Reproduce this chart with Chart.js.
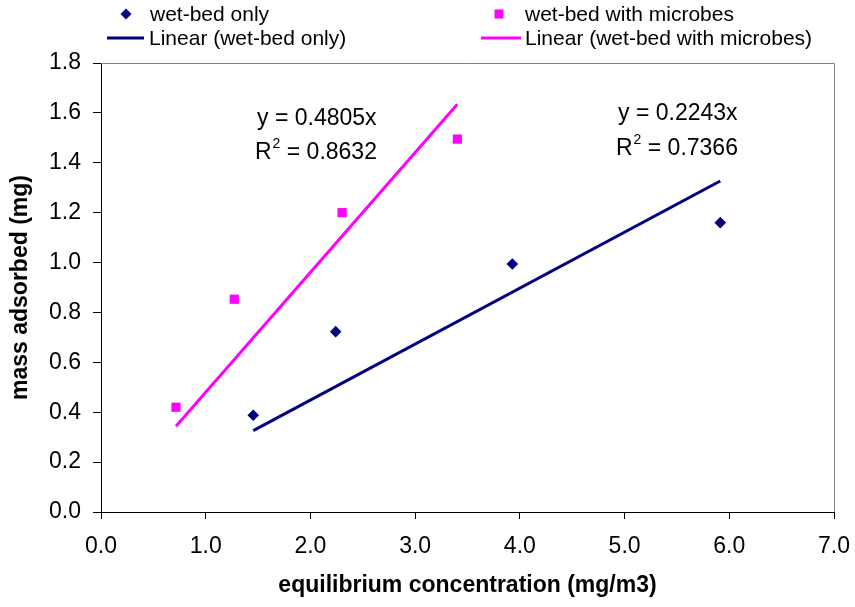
<!DOCTYPE html>
<html><head><meta charset="utf-8">
<script src="https://cdn.jsdelivr.net/npm/chart.js@4/dist/chart.umd.min.js"></script>
<style>html,body{margin:0;padding:0;background:#fff;}#wrap{width:855px;height:607px;}</style>
</head><body><div id="wrap"><canvas id="c" width="855" height="607"></canvas></div>
<script>
// ---- data ----
const wetX = [1.454, 2.241, 3.928, 5.914];
const wetY = [0.388, 0.723, 0.994, 1.160];
const micX = [0.716, 1.273, 2.302, 3.403];
const micY = [0.420, 0.853, 1.200, 1.495];
const wetTrendX = [1.454, 5.914];
const wetTrendY = [0.326, 1.327];
const micTrendX = [0.716, 3.403];
const micTrendY = [0.344, 1.635];
const seriesNames = ["wet-bed only", "wet-bed with microbes", "Linear (wet-bed only)", "Linear (wet-bed with microbes)"];
const eqWet = ["y = 0.2243x", "0.7366"];
const eqMic = ["y = 0.4805x", "0.8632"];
const xTitle = "equilibrium concentration (mg/m3)";
const yTitle = "mass adsorbed (mg)";

const NAVY = "#000080", MAG = "#FF00FF";
const FONT = "'Liberation Sans', Arial, sans-serif";
const pts = (xs, ys) => xs.map((x, i) => ({x, y: ys[i]}));

const overlay = {
  id: 'overlay',
  afterDraw(chart) {
    const ctx = chart.ctx, a = chart.chartArea;
    ctx.save();
    // grey top/right frame
    ctx.strokeStyle = '#808080'; ctx.lineWidth = 1;
    ctx.beginPath();
    ctx.moveTo(a.left, a.top + 0.5); ctx.lineTo(a.right + 0.5, a.top + 0.5); ctx.lineTo(a.right + 0.5, a.bottom);
    ctx.stroke();
    // legend
    ctx.fillStyle = '#000'; ctx.textBaseline = 'middle'; ctx.textAlign = 'left';
    ctx.font = '21px ' + FONT;
    ctx.fillStyle = NAVY; ctx.beginPath();
    ctx.moveTo(126, 8.5); ctx.lineTo(131.5, 14); ctx.lineTo(126, 19.5); ctx.lineTo(120.5, 14); ctx.closePath(); ctx.fill();
    ctx.fillStyle = MAG; ctx.fillRect(494.5, 9.5, 9, 9);
    ctx.lineWidth = 3;
    ctx.strokeStyle = NAVY; ctx.beginPath(); ctx.moveTo(107, 38); ctx.lineTo(144, 38); ctx.stroke();
    ctx.strokeStyle = MAG; ctx.beginPath(); ctx.moveTo(481, 38); ctx.lineTo(521, 38); ctx.stroke();
    ctx.fillStyle = '#000';
    ctx.fillText(seriesNames[0], 150, 15);
    ctx.fillText(seriesNames[1], 525, 15);
    ctx.fillText(seriesNames[2], 149, 39);
    ctx.fillText(seriesNames[3], 525, 39);
    // equations
    const eq = (lines, x1, y1, x2, y2) => {
      ctx.font = '23px ' + FONT;
      ctx.fillText(lines[0], x1, y1);
      ctx.fillText('R', x2, y2);
      let w = ctx.measureText('R').width;
      ctx.font = '14px ' + FONT;
      ctx.fillText('2', x2 + w + 1, y2 - 9);
      let w2 = ctx.measureText('2').width;
      ctx.font = '23px ' + FONT;
      ctx.fillText(' = ' + lines[1], x2 + w + w2 + 1, y2);
    };
    eq(eqMic, 257, 119, 255, 153);
    eq(eqWet, 618, 114, 616, 149);
    // axis titles
    ctx.font = 'bold 23px ' + FONT;
    ctx.textAlign = 'center';
    ctx.fillText(xTitle, (a.left + a.right) / 2, 586);
    ctx.translate(21, (a.top + a.bottom) / 2);
    ctx.rotate(-Math.PI / 2);
    ctx.fillText(yTitle, 0, 0);
    ctx.restore();
  }
};

new Chart(document.getElementById('c'), {
  type: 'scatter',
  data: {
    datasets: [
      {label: seriesNames[2], data: pts(wetTrendX, wetTrendY), showLine: true, borderColor: NAVY, borderWidth: 3, pointRadius: 0, fill: false},
      {label: seriesNames[3], data: pts(micTrendX, micTrendY), showLine: true, borderColor: MAG, borderWidth: 3, pointRadius: 0, fill: false},
      {label: seriesNames[0], data: pts(wetX, wetY), pointStyle: 'rectRot', pointRadius: 5.8, backgroundColor: NAVY, borderColor: NAVY, borderWidth: 0},
      {label: seriesNames[1], data: pts(micX, micY), pointStyle: 'rect', pointRadius: 6.5, backgroundColor: MAG, borderColor: MAG, borderWidth: 0}
    ]
  },
  options: {
    responsive: false, animation: false, devicePixelRatio: 1,
    layout: {padding: {left: 0, top: 63, right: 21, bottom: 0}},
    plugins: {legend: {display: false}, tooltip: {enabled: false}},
    scales: {
      x: {
        type: 'linear', min: 0, max: 7,
        afterFit: s => { s.height = 95; s.paddingLeft = 0; s.paddingRight = 0; },
        ticks: {stepSize: 1, color: '#000', font: {family: FONT, size: 23}, padding: 14, callback: v => v.toFixed(1), maxRotation: 0},
        grid: {drawOnChartArea: false, drawTicks: true, tickLength: 7, color: '#000'},
        border: {display: true, color: '#000', width: 1}
      },
      y: {
        type: 'linear', min: 0, max: 1.8,
        afterFit: s => { s.width = 101; s.paddingTop = 0; s.paddingBottom = 0; },
        ticks: {stepSize: 0.2, color: '#000', font: {family: FONT, size: 23}, padding: 12, callback: v => v.toFixed(1)},
        grid: {drawOnChartArea: false, drawTicks: true, tickLength: 8, color: '#000'},
        border: {display: true, color: '#000', width: 1}
      }
    }
  },
  plugins: [overlay]
});
</script></body></html>
